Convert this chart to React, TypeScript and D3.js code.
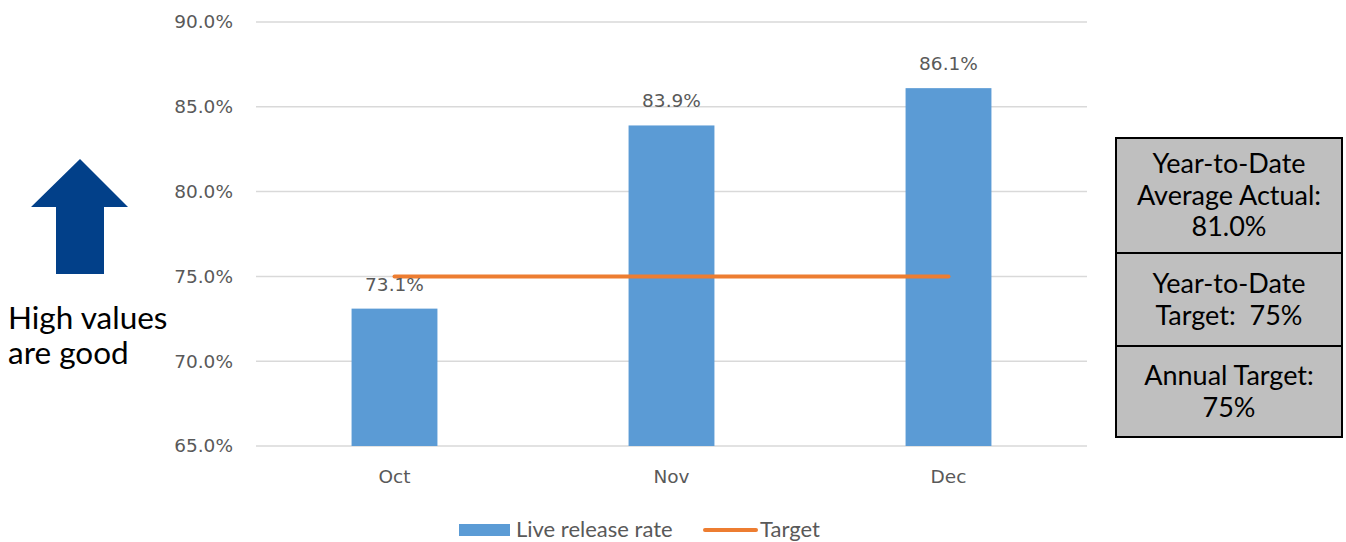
import React from "react";
import * as d3 from "d3";

const months = ["Oct", "Nov", "Dec"];
const liveReleaseRate = [73.1, 83.9, 86.1];
const target = [75, 75, 75];
const yTicks = [65, 70, 75, 80, 85, 90];
const boxTexts = [
  ["Year-to-Date", "Average Actual:", "81.0%"],
  ["Year-to-Date", "Target:\u00A0\u00A075%"],
  ["Annual Target:", "75%"],
];
const legendLabels = ["Live release rate", "Target"];

const W = 1346;
const H = 542;
const plot = { left: 256, right: 1087, top: 22, bottom: 446 };
const BAR = "#5B9BD5";
const LINE = "#ED7D31";
const TXT = "#595959";
const GRID = "#D9D9D9";

export default function App() {
  const x = d3.scaleBand<string>().domain(months).range([plot.left, plot.right]).padding(0);
  const y = d3.scaleLinear().domain([65, 90]).range([plot.bottom, plot.top]);
  const barW = x.bandwidth() * 0.31;
  const cx = (m: string) => (x(m) as number) + x.bandwidth() / 2;
  const line = d3
    .line<number>()
    .x((_, i) => cx(months[i]))
    .y((d) => y(d));

  const boxY = [138, 253, 346, 437];
  const boxX0 = 1116;
  const boxX1 = 1342;
  const lineH = 31.5;

  return (
    <svg width={W} height={H} style={{ position: "absolute", left: 0, top: 0, background: "#fff" }}>
      {yTicks.map((t) => (
        <g key={t}>
          <line x1={plot.left} x2={plot.right} y1={y(t)} y2={y(t)} stroke={GRID} strokeWidth={1.5} />
          <text x={233} y={y(t)} dy="0.35em" textAnchor="end" fontFamily="DejaVu Sans" fontSize={18.5} fill={TXT}>
            {t.toFixed(1)}%
          </text>
        </g>
      ))}
      {months.map((m, i) => (
        <g key={m}>
          <rect x={cx(m) - barW / 2} y={y(liveReleaseRate[i])} width={barW} height={y(65) - y(liveReleaseRate[i])} fill={BAR} />
          <text x={cx(m)} y={plot.bottom + 31} dy="0.35em" textAnchor="middle" fontFamily="DejaVu Sans" fontSize={18.5} fill={TXT}>
            {m}
          </text>
        </g>
      ))}
      <path d={line(target) || ""} fill="none" stroke={LINE} strokeWidth={4} strokeLinecap="round" />
      {months.map((m, i) => (
        <text key={m + "l"} x={cx(m)} y={y(liveReleaseRate[i]) - 18} textAnchor="middle" fontFamily="DejaVu Sans" fontSize={18.5} fill={TXT}>
          {liveReleaseRate[i].toFixed(1)}%
        </text>
      ))}

      {/* legend */}
      <rect x={459} y={524} width={51} height={12} fill={BAR} />
      <text x={516} y={537} fontFamily="Lato" fontSize={22} fill={TXT}>{legendLabels[0]}</text>
      <line x1={705} x2={756} y1={530} y2={530} stroke={LINE} strokeWidth={4} strokeLinecap="round" />
      <text x={760} y={537} fontFamily="Lato" fontSize={22} fill={TXT}>{legendLabels[1]}</text>

      {/* arrow */}
      <path d="M80,159 L128,207 L104,207 L104,274 L56,274 L56,207 L31,207 Z" fill="#024089" />
      <text x={8} y={329} fontFamily="Lato" fontSize={31.5} fill="#000">High values</text>
      <text x={8} y={364} fontFamily="Lato" fontSize={31.5} fill="#000">are good</text>

      {/* boxes */}
      {boxTexts.map((lines, bi) => {
        const top = boxY[bi];
        const bottom = boxY[bi + 1];
        const mid = (top + bottom) / 2;
        const first = mid - ((lines.length - 1) * lineH) / 2;
        return (
          <g key={bi}>
            <rect x={boxX0} y={top} width={boxX1 - boxX0} height={bottom - top} fill="#BFBFBF" stroke="#000" strokeWidth={2} />
            {lines.map((l, li) => (
              <text key={li} x={(boxX0 + boxX1) / 2} y={first + li * lineH} dy="0.35em" textAnchor="middle" fontFamily="Lato" fontSize={27} fill="#000">
                {l}
              </text>
            ))}
          </g>
        );
      })}
    </svg>
  );
}
